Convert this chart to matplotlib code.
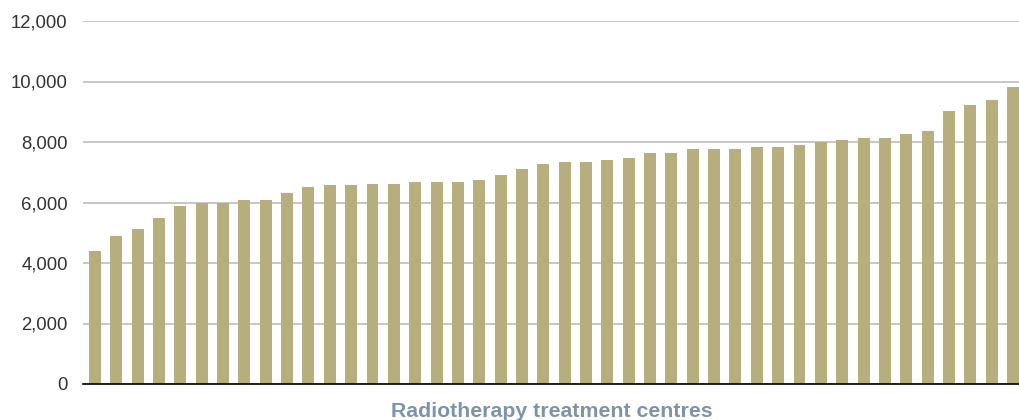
import matplotlib
matplotlib.use("Agg")
import matplotlib.pyplot as plt
from matplotlib.ticker import FuncFormatter

# patients per radiotherapy centre, sorted
centre_values = [4400, 4900, 5120, 5490, 5880, 5970, 5970, 6080, 6080, 6310, 6510, 6580,
                 6580, 6610, 6610, 6680, 6680, 6680, 6740, 6910, 7110, 7270, 7340, 7340,
                 7400, 7470, 7640, 7640,
                 7770, 7770, 7770, 7830, 7830, 7900, 8000, 8070, 8130, 8130, 8260, 8360,
                 9020, 9220, 9390, 9820]
y_ticks = [0, 2000, 4000, 6000, 8000, 10000, 12000]
x_title = "Radiotherapy treatment centres"

plt.rcParams['font.family'] = ['Liberation Sans', 'DejaVu Sans']

fig = plt.figure(figsize=(10.19, 4.2), dpi=100)
ax = fig.add_axes([83/1019, 1 - 384/420, 936/1019, 363/420])

x = list(range(len(centre_values)))
ax.bar(x, centre_values, width=0.56, color="#b6ae7c", zorder=2)

ax.set_ylim(0, 12000)
ax.set_xlim(-0.56, len(centre_values) - 1 + 0.28)
ax.set_yticks(y_ticks)
ax.yaxis.set_major_formatter(FuncFormatter(lambda v, p: f"{int(v):,}"))
ax.tick_params(axis='y', length=0, pad=11, labelsize=13.3, labelcolor="#333333")
ax.set_xticks([])

ax.grid(axis='y', color="#b8b8b8", linewidth=1.1, zorder=0)
for s in ['top', 'right', 'left']:
    ax.spines[s].set_visible(False)
ax.spines['bottom'].set_color("black")
ax.spines['bottom'].set_linewidth(1.2)
ax.spines['bottom'].set_zorder(3)

fig.text((83 + 1019) / 2 / 1019 + 1/1019, 1 - 417/420, x_title, ha='center', va='baseline',
         fontsize=15.3, fontweight='bold', color="#7f93a8")

fig.savefig("out.png", dpi=100)
